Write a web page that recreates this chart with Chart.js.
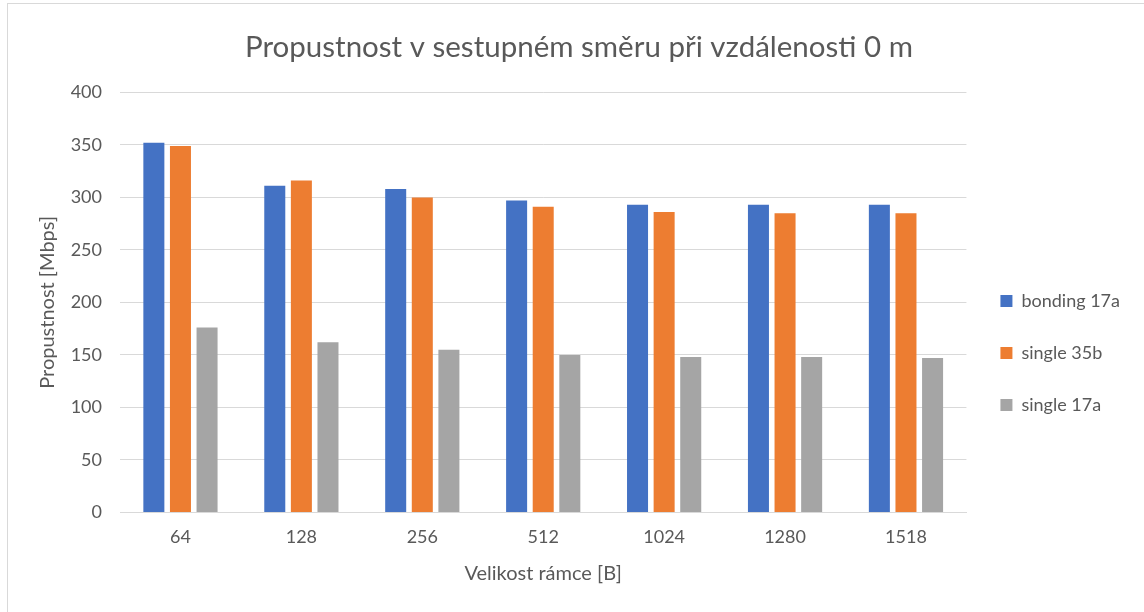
<!DOCTYPE html>
<html>
<head>
<meta charset="utf-8">
<script src="https://cdn.jsdelivr.net/npm/chart.js@4/dist/chart.umd.min.js"></script>
<style>
  html, body { margin: 0; padding: 0; background: #fff; }
  #wrap { position: absolute; left: 0; top: 0; width: 1144px; height: 612px; }
  #frame { position: absolute; left: 7px; top: 3px; width: 1140px; height: 612px;
           border-left: 1px solid #d9d9d9; border-top: 1px solid #d9d9d9; }
  canvas { position: absolute; left: 0; top: 0; }
</style>
</head>
<body>
<div id="wrap">
  <div id="frame"></div>
  <canvas id="chart" width="1144" height="612"></canvas>
</div>
<script>
const frameSizes = ['64', '128', '256', '512', '1024', '1280', '1518'];
const bonding17a = [352, 311, 308, 297, 293, 293, 293];
const single35b = [349, 316, 300, 291, 286, 285, 285];
const single17a = [176, 162, 155, 150, 148, 148, 147];
const seriesNames = ['bonding 17a', 'single 35b', 'single 17a'];

const fontFamily = 'Lato, "Open Sans", sans-serif';
const textColor = '#595959';

const ctx = document.getElementById('chart').getContext('2d');
const chart = new Chart(ctx, {
    type: 'bar',
    data: {
        labels: frameSizes,
        datasets: [
            { label: seriesNames[0], data: bonding17a, backgroundColor: '#4472C4' },
            { label: seriesNames[1], data: single35b, backgroundColor: '#ED7D31' },
            { label: seriesNames[2], data: single17a, backgroundColor: '#A5A5A5' }
        ]
    },
    options: {
        responsive: false,
        animation: false,
        datasets: {
            bar: { categoryPercentage: 0.66, barPercentage: 0.79 }
        },
        layout: { padding: { left: 28, right: 14, top: 16, bottom: 22 } },
        plugins: {
            title: {
                display: true,
                text: 'Propustnost v sestupném směru při vzdálenosti 0 m',
                color: textColor,
                font: { family: fontFamily, size: 29.5, weight: 'normal' },
                padding: { top: 14, bottom: 27 }
            },
            legend: {
                position: 'right',
                align: 'center',
                title: {
                    // empty title only pushes the legend items down
                    display: true,
                    text: ' ',
                    font: { family: fontFamily, size: 16 },
                    padding: { top: 81, bottom: 0 }
                },
                labels: {
                    color: textColor,
                    font: { family: fontFamily, size: 18 },
                    boxWidth: 12,
                    boxHeight: 12,
                    padding: 34
                }
            },
            tooltip: { enabled: false }
        },
        scales: {
            x: {
                grid: { display: false },
                border: { color: '#d9d9d9' },
                ticks: { color: textColor, font: { family: fontFamily, size: 18 }, padding: 6 },
                title: {
                    display: true,
                    text: 'Velikost rámce [B]',
                    color: textColor,
                    font: { family: fontFamily, size: 20 },
                    padding: { top: 8 }
                }
            },
            y: {
                min: 0,
                max: 400,
                afterFit: (scale) => { scale.width = 92; },
                ticks: { stepSize: 50, color: textColor, font: { family: fontFamily, size: 18 }, padding: 18 },
                grid: { color: '#d9d9d9', drawTicks: false },
                border: { display: false },
                title: {
                    display: true,
                    text: 'Propustnost [Mbps]',
                    color: textColor,
                    font: { family: fontFamily, size: 20 },
                    padding: { top: 8, bottom: 0 }
                }
            }
        }
    }
});
</script>
</body>
</html>
